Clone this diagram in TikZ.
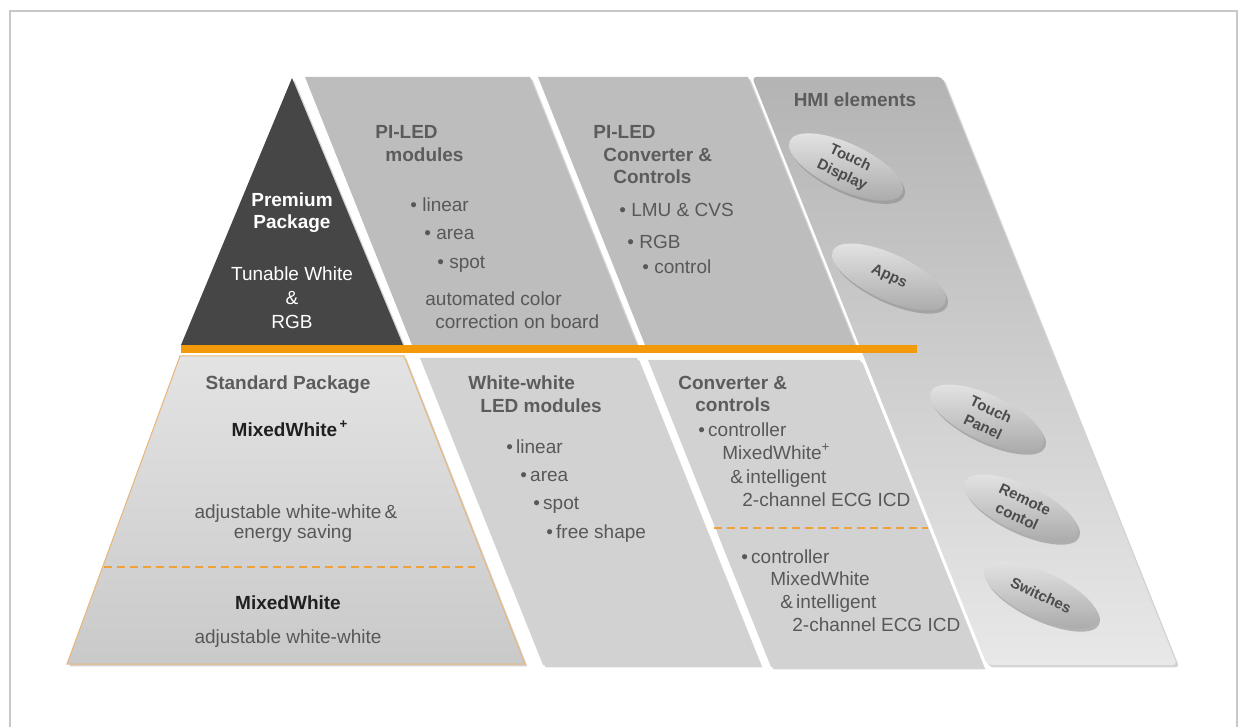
\documentclass[tikz,border=0pt]{standalone}
\usepackage{fontspec}
\setmainfont{Liberation Sans}
\usetikzlibrary{shapes.geometric,shadows}
\definecolor{framegray}{HTML}{C8C8C8}
\definecolor{tri}{HTML}{464646}
\definecolor{topgray}{HTML}{BDBDBD}
\definecolor{botgray}{HTML}{D2D2D2}
\definecolor{ttlgray}{HTML}{5C5C5C}
\definecolor{bdygray}{HTML}{585858}
\definecolor{orangebar}{HTML}{F39A0B}
\definecolor{orangedash}{HTML}{F0A23A}
\definecolor{trapline}{HTML}{E8B67A}
\definecolor{btntext}{HTML}{4C4C4C}
\tikzset{
  shp/.style={drop shadow={opacity=0.35,shadow xshift=1.2pt,shadow yshift=-1.2pt}},
  ttl/.style={font=\fontsize{9.5}{11}\selectfont\bfseries, text=ttlgray, inner sep=0pt, text height=1.5ex, text depth=.25ex},
  bdy/.style={font=\fontsize{9.5}{11}\selectfont, text=bdygray, inner sep=0pt, text height=1.5ex, text depth=.25ex},
  wttl/.style={ttl, text=white},
  wbdy/.style={bdy, text=white},
  kttl/.style={ttl, text=black!88},
  hmibtn/.style={ellipse, minimum width=62pt, minimum height=23pt, inner sep=0pt,
    top color=gray!20, bottom color=gray!68,
    drop shadow={opacity=0.5,shadow xshift=1pt,shadow yshift=-1.6pt},
    font=\fontsize{7.5}{9.5}\selectfont\bfseries, text=btntext, align=center},
  odash/.style={draw=orangedash, line width=1.3pt, dash pattern=on 4pt off 2.5pt}
}
\begin{document}
\begin{tikzpicture}[x=0.5pt,y=-0.5pt]
\useasboundingbox (0,0) rectangle (1243,727);
% outer frame
\draw[framegray, line width=1pt] (10,760) -- (10,11) -- (1237,11) -- (1237,760);

% HMI column
\shade[shp, top color=topgray!95!black, bottom color=gray!18, rounded corners=2pt]
  (752,77) -- (942,77) -- (1177,665) -- (987,665) -- cycle;
% top row
\fill[shp, topgray] (305,77) -- (530,77) -- (637,345) -- (412,345) -- cycle;
\fill[shp, topgray] (538,77) -- (748,77) -- (855,345) -- (645,345) -- cycle;
\fill[shp, tri] (292,78) -- (403,345) -- (181,345) -- cycle;
% bottom row
\shade[shp, top color=gray!22, bottom color=gray!42, draw=trapline, line width=0.5pt]
  (180,356) -- (404,356) -- (525,664) -- (67,664) -- cycle;
\fill[shp, botgray] (420,358) -- (637,358) -- (760,665) -- (543,665) -- cycle;
\fill[shp, botgray] (648,360) -- (860,360) -- (983,667) -- (771,667) -- cycle;

% orange bar
\fill[orangebar] (181,345) rectangle (917,353);

% dashed separators
\coordinate (d1a) at (104,567);
\coordinate (d1b) at (475,567);
\coordinate (d2a) at (714,528);
\coordinate (d2b) at (928,528);
\draw[odash] (d1a) -- (d1b);
\draw[odash] (d2a) -- (d2b);

% Premium package
\node[wttl] (pr1) at (292,200) {Premium};
\node[wttl] (pr2) at (292,222) {Package};
\node[wbdy] (pr3) at (292,274) {Tunable White};
\node[wbdy] (pr4) at (292,298) {\&};
\node[wbdy] (pr5) at (292,322) {RGB};

% PI-LED modules
\node[ttl, anchor=west] (m1) at (375,132) {PI-LED};
\node[ttl, anchor=west] (m2) at (385,155) {modules};
\node[bdy, anchor=west] (m3) at (410,205) {•\ linear};
\node[bdy, anchor=west] (m4) at (424,233) {•\ area};
\node[bdy, anchor=west] (m5) at (437,262) {•\ spot};
\node[bdy, anchor=west] (m6) at (425,299) {automated color};
\node[bdy, anchor=west] (m7) at (435,322) {correction on board};

% PI-LED converter
\node[ttl, anchor=west] (c1) at (593,132) {PI-LED};
\node[ttl, anchor=west] (c2) at (603,155) {Converter \&};
\node[ttl, anchor=west] (c3) at (613,177) {Controls};
\node[bdy, anchor=west] (c4) at (619,210) {•\ LMU \& CVS};
\node[bdy, anchor=west] (c5) at (627,242) {•\ RGB};
\node[bdy, anchor=west] (c6) at (642,267) {•\ control};

% HMI
\node[ttl] (h0) at (855,100) {HMI elements};
\node[hmibtn, rotate=-25] (h1) at (846,167) {Touch\\Display};
\node[hmibtn, rotate=-25] (h2) at (889,277) {Apps};
\node[hmibtn, rotate=-25] (h3) at (987,418) {Touch\\Panel};
\node[hmibtn, rotate=-25] (h4) at (1021,508) {Remote\\contol};
\node[hmibtn, rotate=-25] (h5) at (1041,595) {Switches};

% Standard package
\node[ttl] (s1) at (288,383) {Standard Package};
\node[kttl] (s2) at (290,430) {MixedWhite\textsuperscript{\,+}};
\node[bdy] (s3) at (296,512) {adjustable white-white\,\&};
\node[bdy] (s4) at (293,532) {energy saving};
\node[kttl] (s5) at (288,603) {MixedWhite};
\node[bdy] (s6) at (288,637) {adjustable white-white};

% White-white LED modules
\node[ttl, anchor=west] (w1) at (468,383) {White-white};
\node[ttl, anchor=west] (w2) at (480,406) {LED modules};
\node[bdy, anchor=west] (w3) at (506,447) {•\,linear};
\node[bdy, anchor=west] (w4) at (520,475) {•\,area};
\node[bdy, anchor=west] (w5) at (533,503) {•\,spot};
\node[bdy, anchor=west] (w6) at (546,532) {•\,free shape};

% Converter & controls
\node[ttl, anchor=west] (v1) at (678,383) {Converter \&};
\node[ttl, anchor=west] (v2) at (695,405) {controls};
\node[bdy, anchor=west] (v3) at (698,430) {•\,controller};
\node[bdy, anchor=west] (v4) at (722,453) {MixedWhite\textsuperscript{+}};
\node[bdy, anchor=west] (v5) at (730,477) {\&\,intelligent};
\node[bdy, anchor=west] (v6) at (742,500) {2-channel ECG ICD};
\node[bdy, anchor=west] (v7) at (741,557) {•\,controller};
\node[bdy, anchor=west] (v8) at (770,579) {MixedWhite};
\node[bdy, anchor=west] (v9) at (780,602) {\&\,intelligent};
\node[bdy, anchor=west] (v10) at (792,625) {2-channel ECG ICD};
\end{tikzpicture}
\end{document}
